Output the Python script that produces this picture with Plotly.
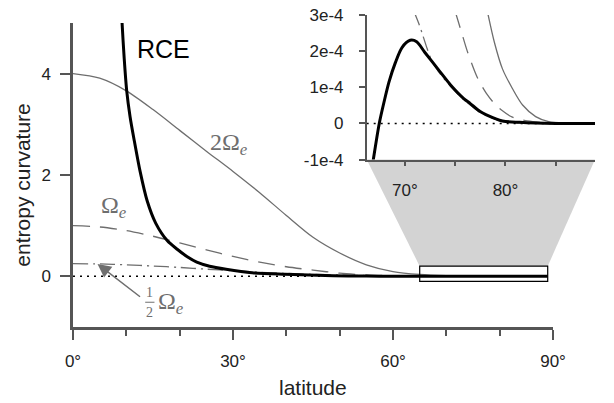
import numpy as np
import plotly.graph_objects as go

# ---------------- data ----------------
# main panel: latitude (deg) and entropy curvature
lat_2om = [0, 5, 10, 15, 20, 25, 30, 35, 40, 45, 50, 55, 60, 65, 70, 75, 80, 85, 89]
val_2om = [4.0, 3.91, 3.66, 3.29, 2.88, 2.47, 2.07, 1.65, 1.2, 0.77, 0.46, 0.228, 0.094,
           0.037, 0.012, 0.0025, 0.00018, 0.00001, 0.0]

lat_om = [0, 5, 10, 15, 20, 25, 30, 35, 40, 45, 50, 55, 60, 65, 70, 75, 80, 85, 89]
val_om = [1.0, 0.974, 0.901, 0.791, 0.659, 0.522, 0.392, 0.28, 0.189, 0.122, 0.062, 0.027,
          0.0101, 0.0037, 0.0012, 0.00033, 0.00003, 0.0, 0.0]

lat_half = [0, 5, 10, 15, 20, 25, 30, 35, 40, 45, 50, 55, 60, 65, 70, 75, 80, 89]
val_half = [0.25, 0.244, 0.228, 0.203, 0.175, 0.141, 0.11, 0.081, 0.058, 0.039, 0.025,
            0.015, 0.0067, 0.0024, 0.0007, 0.0002, 0.00001, 0.0]

lat_rce = [8.95, 9.2, 9.6, 10.06, 10.7, 11.5, 12.6, 13.9, 15.5, 17.7, 19.6, 21.5, 23.2, 25.6,
           28.7, 33.6, 39.7, 48.8, 55, 60, 65, 70, 75, 80, 89]
val_rce = [5.6, 5.0, 4.3, 3.67, 3.15, 2.67, 2.06, 1.49, 1.05, 0.7, 0.53, 0.38, 0.28, 0.2,
           0.14, 0.07, 0.04, 0.013, 0.005, 0.002, 0.0006, 0.0002, 0.0001, 0.00002, 0.0]

zero_lat = [0, 89]
zero_val = [0, 0]

# inset panel: values in units of 1e-4
ilat_rce = [66.7, 66.86, 67.45, 67.93, 68.42, 69.06, 69.71, 70.52, 71.17, 71.97, 73.27,
            74.56, 75.85, 76.5, 77.48, 78.1, 79.7, 81.4, 83, 85, 88.9]
ival_rce = [-1.3, -1.0, 0.0, 0.6, 1.15, 1.69, 2.10, 2.30, 2.26, 1.97, 1.51, 1.06, 0.69,
            0.55, 0.33, 0.24, 0.07, 0.03, 0.01, 0.0, 0.0]
ilat_half = [70.9, 71.4, 71.8, 72.2, 72.6, 73.27, 74.56, 75.85, 77.48, 79.7, 81.4, 83, 85, 88.9]
ival_half = [3.1, 2.75, 2.42, 2.08, 1.78, 1.46, 1.02, 0.66, 0.31, 0.06, 0.015, 0.003, 0.0, 0.0]
ilat_om = [75.0, 75.6, 76.2, 77.2, 78.1, 78.9, 79.7, 80.5, 81.3, 82.2, 84, 86, 88.9]
ival_om = [3.1, 2.55, 2.0, 1.27, 0.83, 0.55, 0.35, 0.2, 0.12, 0.07, 0.02, 0.004, 0.0]
ilat_2om = [78.2, 78.9, 79.7, 80.7, 81.7, 83.0, 84.3, 86, 88.9]
ival_2om = [3.1, 2.24, 1.51, 0.96, 0.51, 0.19, 0.05, 0.01, 0.0]
izero_lat = [66.2, 88.9]
izero_val = [0, 0]

x_ticks = [0, 30, 60, 90]
x_ticktext = ["0°", "30°", "60°", "90°"]
x_minor = [10, 20, 40, 50, 70, 80]
y_ticks = [0, 2, 4]
ix_ticks = [70, 80]
ix_ticktext = ["70°", "80°"]
ix_minor = [75, 85]
iy_ticks = [-1, 0, 1, 2, 3]
iy_ticktext = ["-1e-4", "0", "1e-4", "2e-4", "3e-4"]

zoom_box = dict(x0=65, x1=89, y0=-0.1, y1=0.2)

# ---------------- layout geometry ----------------
W, H = 614, 403
L, R, T, B = 73, 6, 12, 76
PW, PH = W - L - R, H - T - B


def fx(px):
    return (px - L) / PW


def fy(py):
    return (H - B - py) / PH


xdom = [0, fx(565)]
ydom = [0, fy(20)]
ixdom = [fx(374), 1]
iydom = [fy(158), 1]
xrng = [0, 90]
yrng = [-1, 5]
ixrng = [66.2, 88.9]
iyrng = [-1, 3]


def mx(v):
    return xdom[0] + (v - xrng[0]) / (xrng[1] - xrng[0]) * (xdom[1] - xdom[0])


def my(v):
    return ydom[0] + (v - yrng[0]) / (yrng[1] - yrng[0]) * (ydom[1] - ydom[0])


GRAY = "#6e6e6e"
AX = "#555555"
SANS = "Liberation Sans, Arial, sans-serif"
SERIF = "Liberation Serif, DejaVu Serif, serif"

fig = go.Figure()
sm = 0.8
fig.add_trace(go.Scatter(x=zero_lat, y=zero_val, mode="lines",
                         line=dict(color="black", width=1.6, dash="2px,5px")))
fig.add_trace(go.Scatter(x=lat_2om, y=val_2om, mode="lines",
                         line=dict(color=GRAY, width=1.3, shape="spline", smoothing=sm)))
fig.add_trace(go.Scatter(x=lat_om, y=val_om, mode="lines",
                         line=dict(color=GRAY, width=1.3, dash="17px,10px", shape="spline", smoothing=sm)))
fig.add_trace(go.Scatter(x=lat_half, y=val_half, mode="lines",
                         line=dict(color=GRAY, width=1.3, dash="15px,5px,2px,5px", shape="spline", smoothing=sm)))
fig.add_trace(go.Scatter(x=lat_rce, y=val_rce, mode="lines",
                         line=dict(color="black", width=3, shape="spline", smoothing=sm)))

# inset
fig.add_trace(go.Scatter(x=izero_lat, y=izero_val, mode="lines", xaxis="x2", yaxis="y2",
                         line=dict(color="black", width=1.6, dash="2px,5px")))
fig.add_trace(go.Scatter(x=ilat_2om, y=ival_2om, mode="lines", xaxis="x2", yaxis="y2",
                         line=dict(color=GRAY, width=1.3, shape="spline", smoothing=sm)))
fig.add_trace(go.Scatter(x=ilat_om, y=ival_om, mode="lines", xaxis="x2", yaxis="y2",
                         line=dict(color=GRAY, width=1.3, dash="17px,10px", shape="spline", smoothing=sm)))
fig.add_trace(go.Scatter(x=ilat_half, y=ival_half, mode="lines", xaxis="x2", yaxis="y2",
                         line=dict(color=GRAY, width=1.3, dash="15px,5px,2px,5px", shape="spline", smoothing=sm)))
fig.add_trace(go.Scatter(x=ilat_rce, y=ival_rce, mode="lines", xaxis="x2", yaxis="y2",
                         line=dict(color="black", width=3, shape="spline", smoothing=sm)))

tickfont = dict(family=SANS, size=17, color="#222")

fig.update_layout(
    width=W, height=H, margin=dict(l=L, r=R, t=T, b=B),
    paper_bgcolor="white", plot_bgcolor="rgba(0,0,0,0)", showlegend=False,
    xaxis=dict(domain=xdom, range=xrng, anchor="y", showline=True, linecolor=AX, linewidth=2.5,
               ticks="outside", ticklen=10, tickwidth=2, tickcolor=AX,
               tickvals=x_ticks, ticktext=x_ticktext, showgrid=False, zeroline=False,
               tickfont=tickfont, ticklabelstandoff=7,
               minor=dict(tickvals=x_minor, ticks="outside", ticklen=6, tickwidth=2, tickcolor=AX,
                          showgrid=False)),
    yaxis=dict(domain=ydom, range=yrng, anchor="x", showline=True, linecolor=AX, linewidth=2.5,
               ticks="outside", ticklen=10, tickwidth=2, tickcolor=AX,
               tickvals=y_ticks, showgrid=False, zeroline=False, tickfont=tickfont,
               ticklabelstandoff=6),
    xaxis2=dict(domain=ixdom, range=ixrng, anchor="y2", showline=True, linecolor=AX, linewidth=1.5,
                ticks="outside", ticklen=5, tickwidth=1.5, tickcolor=AX,
                tickvals=ix_ticks, ticktext=ix_ticktext, showgrid=False, zeroline=False,
                tickfont=tickfont, ticklabelstandoff=9,
                minor=dict(tickvals=ix_minor, ticks="outside", ticklen=5, tickwidth=1.5,
                           tickcolor=AX, showgrid=False)),
    yaxis2=dict(domain=iydom, range=iyrng, anchor="x2", showline=True, linecolor=AX, linewidth=1.5,
                ticks="outside", ticklen=6, tickwidth=1.5, tickcolor=AX,
                tickvals=iy_ticks, ticktext=iy_ticktext, showgrid=False, zeroline=False,
                tickfont=tickfont, ticklabelstandoff=12),
)

# zoom connector (trapezoid) and zoom box
trap = "M {a},{b} L {c},{b} L {d},{e} L {f},{e} Z".format(
    a=ixdom[0], b=iydom[0], c=ixdom[1],
    d=mx(zoom_box["x1"]), e=my(zoom_box["y1"]), f=mx(zoom_box["x0"]))
fig.add_shape(type="path", path=trap, xref="paper", yref="paper",
              fillcolor="#d3d3d3", line=dict(width=0), layer="below")
fig.add_shape(type="rect", xref="x", yref="y", line=dict(color="black", width=1.2),
              fillcolor="rgba(0,0,0,0)", layer="above", **zoom_box)

# fraction bar for 1/2
fig.add_shape(type="line", xref="paper", yref="paper", x0=fx(147), x1=fx(156.5),
              y0=fy(302), y1=fy(302), line=dict(color=GRAY, width=1))

ann = [
    dict(text="RCE", x=fx(166), y=fy(46), font=dict(family=SANS, size=25, color="black")),
    dict(text="2Ω<sub><i>e</i></sub>", x=fx(233), y=fy(142),
         font=dict(family=SERIF, size=24, color=GRAY)),
    dict(text="Ω<sub><i>e</i></sub>", x=fx(115), y=fy(206),
         font=dict(family=SERIF, size=24, color=GRAY)),
    dict(text="1", x=fx(151.7), y=fy(292), font=dict(family=SERIF, size=14, color=GRAY)),
    dict(text="2", x=fx(151.7), y=fy(312), font=dict(family=SERIF, size=14, color=GRAY)),
    dict(text="Ω<sub><i>e</i></sub>", x=fx(173), y=fy(303),
         font=dict(family=SERIF, size=24, color=GRAY)),
    dict(text="latitude", x=fx(319), y=fy(388), font=dict(family=SANS, size=21, color="#222")),
    dict(text="entropy curvature", x=fx(21), y=fy(184), textangle=-90,
         font=dict(family=SANS, size=21, color="#222")),
]
for a in ann:
    fig.add_annotation(xref="paper", yref="paper", showarrow=False,
                       xanchor="center", yanchor="middle", **a)

# arrow pointing at the 1/2 Omega curve
arrow_lat = 4.6
fig.add_annotation(xref="x", yref="y", x=arrow_lat, y=float(np.interp(arrow_lat, lat_half, val_half)),
                   ax=44, ay=34, axref="pixel", ayref="pixel", text="", showarrow=True,
                   arrowhead=2, arrowsize=1.8, arrowwidth=1.5, arrowcolor=GRAY)

fig.write_html("out.html")
